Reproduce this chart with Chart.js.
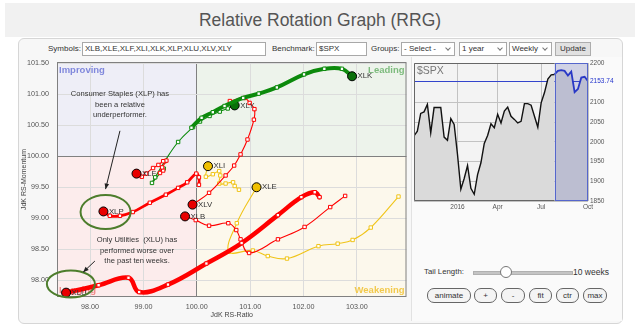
<!DOCTYPE html>
<html>
<head>
<meta charset="utf-8">
<title>Relative Rotation Graph (RRG)</title>
<script src="https://cdn.jsdelivr.net/npm/chart.js@4.4.1/dist/chart.umd.min.js"></script>
<style>
  body { margin: 0; width: 640px; height: 331px; background: #fff; position: relative; overflow: hidden;
         font-family: "Liberation Sans", Arial, sans-serif; color: #333; }
  .a { position: absolute; }
  #banner { left: 5px; top: 3px; width: 630px; height: 34px; background: #f1f1f1;
            font-size: 17.5px; line-height: 34px; text-align: center; color: #555; }
  #panel { left: 18px; top: 38px; width: 603px; height: 284px; background: #f7f7f7;
           border: 1px solid #d6d6d6; border-radius: 6px; }
  .t { font-size: 8px; line-height: 14px; top: 42px; color: #333; white-space: nowrap; }
  .box { top: 42px; height: 14px; box-sizing: border-box; border: 1px solid #a8a8a8; background: #fff;
         font-size: 8px; line-height: 12px; padding-left: 2px; white-space: nowrap; overflow: hidden; }
  .sel::after { content: ''; position: absolute; right: 4px; top: 3px; width: 3px; height: 3px;
         border-right: 1px solid #777; border-bottom: 1px solid #777; transform: rotate(45deg); }
  #update { top: 42px; left: 555px; width: 36px; height: 14px; box-sizing: border-box; background: #e1e1e1;
         border: 1px solid #adadad; font-size: 8px; line-height: 12px; text-align: center; }
  #side { left: 411px; top: 57px; width: 210px; height: 264px; background: #fafafa; border-left: 1px solid #e2e2e2; }
  .btn { top: 288px; height: 15px; box-sizing: border-box; border: 1px solid #666; border-radius: 7px;
         background: #f4f4f4; font-size: 8px; line-height: 13px; text-align: center; color: #333; }
  .s { top: 266px; font-size: 7.8px; line-height: 12px; color: #333; white-space: nowrap; }
</style>
</head>
<body>
<div id="banner" class="a">Relative Rotation Graph (RRG)</div>
<div id="panel" class="a"></div>
<div id="side" class="a"></div>

<div class="a t" style="left:48px">Symbols:</div>
<div class="a box" style="left:82px;width:184px">XLB,XLE,XLF,XLI,XLK,XLP,XLU,XLV,XLY</div>
<div class="a t" style="left:272px">Benchmark:</div>
<div class="a box" style="left:316px;width:51px">$SPX</div>
<div class="a t" style="left:371px">Groups:</div>
<div class="a box sel" style="left:401px;width:54px">- Select -</div>
<div class="a box sel" style="left:459px;width:48px">1 year</div>
<div class="a box sel" style="left:509px;width:43px">Weekly</div>
<div id="update" class="a">Update</div>

<canvas id="rrg" class="a" style="left:10px;top:56px" width="402" height="268"></canvas>
<canvas id="spx" class="a" style="left:410px;top:56px" width="212" height="160"></canvas>

<div class="a s" style="left:424px">Tail Length:</div>
<div class="a" style="left:473px;top:271px;width:98px;height:2px;background:#c4c4c4;border:1px solid #b0b0b0;box-sizing:content-box"></div>
<div class="a" style="left:500px;top:266px;width:10px;height:10px;border-radius:50%;border:1px solid #777;background:#fff"></div>
<div class="a s" style="left:573px;font-size:8.5px">10 weeks</div>

<div class="a btn" style="left:427px;width:44px">animate</div>
<div class="a btn" style="left:474px;width:23px">+</div>
<div class="a btn" style="left:501px;width:24px">-</div>
<div class="a btn" style="left:529px;width:23px">fit</div>
<div class="a btn" style="left:556px;width:23px">ctr</div>
<div class="a btn" style="left:583px;width:24px">max</div>

<script>
// tails: [JdK RS-Ratio, JdK RS-Momentum], oldest week first, last one is the head
const xlkTail = [[99.90,100.46],[100.09,100.62],[100.30,100.71],[100.52,100.81],[100.87,100.94],[101.16,101.01],[101.50,101.11],[102.01,101.32],[102.39,101.41],[102.72,101.41],[102.91,101.29]];
const xlyTail = [[99.38,99.80],[99.16,99.57],[99.22,99.66],[99.40,99.92],[99.65,100.23],[99.93,100.47],[100.06,100.56],[100.24,100.65],[100.43,100.72],[100.58,100.77],[100.71,100.82]];
const xlfTail = [[99.37,99.77],[99.31,99.73],[99.35,99.82],[99.43,99.93],[99.37,99.92],[99.28,99.86],[99.18,99.81],[99.05,99.72],[98.97,99.67],[98.92,99.69],[98.87,99.72]];
const xlpTail = [[100.04,99.54],[100.04,99.66],[99.99,99.72],[99.82,99.58],[99.65,99.49],[99.42,99.38],[99.12,99.25],[98.80,99.10],[98.56,99.04],[98.37,99.04],[98.25,99.11]];
const xluTail = [[102.30,99.34],[102.21,99.42],[101.96,99.34],[101.52,99.05],[100.84,98.60],[100.18,98.27],[99.46,97.93],[98.92,97.81],[98.72,98.04],[98.16,97.92],[97.55,97.80]];
const xlvTail = [[100.62,100.89],[100.90,100.94],[100.99,100.86],[101.08,100.76],[101.07,100.59],[100.95,100.27],[100.82,100.03],[100.70,99.85],[100.54,99.69],[100.23,99.41],[99.92,99.22]];
const xlbTail = [[102.78,99.36],[102.50,99.18],[102.02,98.86],[101.52,98.66],[100.98,98.44],[100.82,98.66],[100.74,98.81],[100.59,98.92],[100.23,98.88],[99.98,98.97],[99.78,99.03]];
const xliTail = [[100.79,99.46],[100.71,99.52],[100.68,99.58],[100.54,99.56],[100.42,99.56],[100.44,99.69],[100.42,99.76],[100.30,99.71],[100.17,99.67],[100.21,99.84]];
const xleTail = [[103.78,99.35],[103.26,98.85],[102.92,98.65],[102.64,98.59],[102.28,98.55],[101.69,98.35],[101.33,98.39],[101.05,98.48],[100.60,98.46],[100.75,98.92],[101.12,99.50]];

const symbols = ['XLU','XLP','XLK','XLF','XLY','XLV','XLB','XLI','XLE'];
const tails = { XLK: xlkTail, XLY: xlyTail, XLF: xlfTail, XLP: xlpTail, XLU: xluTail,
                XLV: xlvTail, XLB: xlbTail, XLI: xliTail, XLE: xleTail };

// benchmark: weekly closes for the last year
const spxClose = [2015,2027,2072,2076,2095,2023,2087,2087,2087,2012,2004,2059,2044,1968,1880,1907,1940,1882,1867,1917,
                  1947,1996,2016,2046,2036,2070,2048,2078,2088,2065,2057,2048,2052,2097,2097,2093,2065,2037,2099,2125,
                  2159,2170,2171,2180,2182,2180,2168,2178,2126,2134,2163,2165,2153.74];
const spxTickIdx = [13, 25, 38, 52];
const spxTickLabels = ['2016', 'Apr', 'Jul', 'Oct'];
const tailWeeks = 10;

// styles
const green = '#0c8a0c', red = '#ff0000', gold = '#f0c419';
const tailColor = { XLK: green, XLY: green, XLF: red, XLP: red, XLU: red, XLV: red, XLB: red, XLI: gold, XLE: gold };
const headColor = { XLK: '#0a700a', XLY: '#0a700a', XLF: '#e80000', XLP: '#e80000', XLU: '#e80000', XLV: '#e80000', XLB: '#e80000', XLI: '#f0c000', XLE: '#f0c000' };
const tailWidth = { XLK: 4, XLU: 4.5, XLP: 2.8 };

const notes = [
  { lines: ['Consumer Staples (XLP) has', 'been a relative', 'underperformer.'], at: [98.56, 101.0],
    from: [98.56, 100.41], to: [98.29, 99.47] },
  { lines: ['Only Utilities  (XLU) has', 'performed worse over', 'the past ten weeks.'], at: [98.88, 98.65],
    from: [98.09, 98.31], to: [97.87, 98.13] }
];
const rings = [ { at: [98.29, 99.10], rx: 25, ry: 17 }, { at: [97.64, 97.94], rx: 24, ry: 13.5 } ];

Chart.defaults.font.family = '"Liberation Sans", Arial, sans-serif';
Chart.defaults.color = '#555';

const quadrants = {
  id: 'quadrants',
  beforeDraw(chart) {
    const { ctx, chartArea: a, scales: { x, y } } = chart;
    const cx = x.getPixelForValue(100), cy = y.getPixelForValue(100);
    ctx.save();
    ctx.fillStyle = '#eeeef7'; ctx.fillRect(a.left, a.top, cx - a.left, cy - a.top);
    ctx.fillStyle = '#edf3eb'; ctx.fillRect(cx, a.top, a.right - cx, cy - a.top);
    ctx.fillStyle = '#fcecec'; ctx.fillRect(a.left, cy, cx - a.left, a.bottom - cy);
    ctx.fillStyle = '#fcf8ec'; ctx.fillRect(cx, cy, a.right - cx, a.bottom - cy);
    ctx.restore();
  },
  beforeDatasetsDraw(chart) {
    const { ctx, chartArea: a } = chart;
    ctx.save();
    ctx.strokeStyle = '#808080'; ctx.lineWidth = 1;
    ctx.strokeRect(a.left + 0.5, a.top + 0.5, a.width - 1, a.height - 1);
    ctx.font = 'bold 9.5px "Liberation Sans", Arial, sans-serif';
    ctx.textBaseline = 'alphabetic';
    ctx.textAlign = 'left';
    ctx.fillStyle = '#8088dc'; ctx.fillText('Improving', a.left + 2, a.top + 10.5);
    ctx.fillStyle = '#f08a8a'; ctx.fillText('Lagging', a.left + 2, a.bottom - 4);
    ctx.textAlign = 'right';
    ctx.fillStyle = '#7dbb7d'; ctx.fillText('Leading', a.right - 2, a.top + 10.5);
    ctx.fillStyle = '#f2c94c'; ctx.fillText('Weakening', a.right - 2, a.bottom - 4);
    ctx.restore();
  },
  afterDatasetsDraw(chart) {
    const { ctx, scales: { x, y } } = chart;
    ctx.save();
    // head labels
    ctx.font = '7.8px "Liberation Sans", Arial, sans-serif';
    ctx.fillStyle = '#333';
    ctx.textBaseline = 'middle';
    chart.data.datasets.forEach((ds, i) => {
      const pts = chart.getDatasetMeta(i).data;
      const p = pts[pts.length - 1];
      ctx.fillText(ds.label, p.x + 5.5, p.y);
    });
    // rings
    ctx.strokeStyle = '#4d7d2c'; ctx.lineWidth = 2;
    rings.forEach(r => {
      ctx.beginPath();
      ctx.ellipse(x.getPixelForValue(r.at[0]), y.getPixelForValue(r.at[1]), r.rx, r.ry, 0, 0, Math.PI * 2);
      ctx.stroke();
    });
    // notes and arrows
    ctx.font = '7.6px "Liberation Sans", Arial, sans-serif';
    ctx.textAlign = 'center';
    ctx.fillStyle = '#333';
    ctx.strokeStyle = '#222'; ctx.lineWidth = 1;
    notes.forEach(n => {
      const tx = x.getPixelForValue(n.at[0]), ty = y.getPixelForValue(n.at[1]);
      n.lines.forEach((l, k) => ctx.fillText(l, tx, ty + k * 10.5));
      const x0 = x.getPixelForValue(n.from[0]), y0 = y.getPixelForValue(n.from[1]);
      const x1 = x.getPixelForValue(n.to[0]), y1 = y.getPixelForValue(n.to[1]);
      const ang = Math.atan2(y1 - y0, x1 - x0);
      ctx.beginPath(); ctx.moveTo(x0, y0); ctx.lineTo(x1, y1); ctx.stroke();
      ctx.beginPath();
      ctx.moveTo(x1, y1);
      ctx.lineTo(x1 - 6 * Math.cos(ang - 0.4), y1 - 6 * Math.sin(ang - 0.4));
      ctx.lineTo(x1 - 6 * Math.cos(ang + 0.4), y1 - 6 * Math.sin(ang + 0.4));
      ctx.closePath();
      ctx.fillStyle = '#222'; ctx.fill();
      ctx.fillStyle = '#333';
    });
    ctx.restore();
  }
};

const isHead = (c) => c.dataIndex === c.dataset.data.length - 1;

new Chart(document.getElementById('rrg'), {
  type: 'scatter',
  data: {
    datasets: symbols.map(sym => ({
      label: sym,
      data: tails[sym].map(([x, y]) => ({ x, y })),
      showLine: true,
      tension: 0.4,
      borderColor: tailColor[sym],
      borderWidth: tailWidth[sym] || 1.1,
      borderCapStyle: 'round',
      borderJoinStyle: 'round',
      pointStyle: c => isHead(c) ? 'circle' : 'rect',
      pointRadius: c => isHead(c) ? 4.5 : 2.4,
      pointBackgroundColor: c => isHead(c) ? headColor[sym] : '#fff',
      pointBorderColor: c => isHead(c) ? '#000' : tailColor[sym],
      pointBorderWidth: 1
    }))
  },
  options: {
    responsive: false,
    animation: false,
    devicePixelRatio: 1,
    events: [],
    layout: { padding: { top: 6, right: 5, left: 0, bottom: 0 } },
    plugins: { legend: { display: false }, tooltip: { enabled: false } },
    scales: {
      x: {
        min: 97.38, max: 103.93,
        ticks: { stepSize: 1, includeBounds: false, padding: 6, font: { size: 7.2 }, color: '#555',
                 callback: v => v.toFixed(2) },
        grid: { drawTicks: false, color: c => c.tick && c.tick.value === 100 ? '#808080' : '#dcdcdc' },
        border: { display: false },
        title: { display: true, text: 'JdK RS-Ratio', font: { size: 7 }, color: '#444', padding: { top: 0, bottom: 5 } },
        afterFit: s => { s.height = 27; s.paddingLeft = 0; s.paddingRight = 0; }
      },
      y: {
        min: 97.73, max: 101.52,
        ticks: { stepSize: 0.5, includeBounds: false, padding: 8, font: { size: 7.2 }, color: '#555',
                 callback: v => v.toFixed(2) },
        grid: { drawTicks: false, color: c => c.tick && c.tick.value === 100 ? '#808080' : '#dcdcdc' },
        border: { display: false },
        title: { display: true, text: 'JdK RS-Momentum', font: { size: 7 }, color: '#444', padding: { top: 10, bottom: 0 } },
        afterFit: s => { s.width = 47; s.paddingTop = 0; s.paddingBottom = 0; }
      }
    }
  },
  plugins: [quadrants]
});

const tailStart = spxClose.length - 1 - tailWeeks;
const lastClose = spxClose[spxClose.length - 1];

const spxDecor = {
  id: 'spxDecor',
  beforeDraw(chart) {
    const { ctx, chartArea: a } = chart;
    ctx.save();
    ctx.fillStyle = '#f3f3f3';
    ctx.fillRect(a.left, a.top, a.width, a.height);
    ctx.restore();
  },
  afterDatasetsDraw(chart) {
    const { ctx, chartArea: a, scales: { x } } = chart;
    const xs = x.getPixelForValue(tailStart);
    ctx.save();
    ctx.fillStyle = 'rgba(70, 80, 175, 0.2)';
    ctx.fillRect(xs, a.top, a.right - xs, a.height);
    ctx.strokeStyle = '#5566cc'; ctx.lineWidth = 1;
    ctx.strokeRect(Math.round(xs) + 0.5, a.top + 0.5, a.right - Math.round(xs) - 1, a.height - 1);
    ctx.strokeStyle = '#666';
    ctx.beginPath();
    ctx.moveTo(xs, a.top + 0.5); ctx.lineTo(a.left + 0.5, a.top + 0.5);
    ctx.lineTo(a.left + 0.5, a.bottom - 0.5); ctx.lineTo(xs, a.bottom - 0.5);
    ctx.stroke();
    ctx.font = '10.5px "Liberation Sans", Arial, sans-serif';
    ctx.fillStyle = '#777';
    ctx.textBaseline = 'top';
    ctx.fillText('$SPX', a.left + 3, a.top + 3);
    ctx.restore();
  }
};

new Chart(document.getElementById('spx'), {
  type: 'line',
  data: {
    datasets: [{
      data: spxClose.map((v, i) => ({ x: i, y: v })),
      borderColor: '#111',
      borderWidth: 1.4,
      segment: {
        borderColor: c => c.p0DataIndex >= tailStart ? '#2233cc' : '#111',
        borderWidth: c => c.p0DataIndex >= tailStart ? 1.8 : 1.4
      },
      fill: 'start',
      backgroundColor: '#dadada',
      pointRadius: 0,
      tension: 0
    }]
  },
  options: {
    responsive: false,
    animation: false,
    devicePixelRatio: 1,
    events: [],
    layout: { padding: { left: 4, top: 7, right: 0, bottom: 0 } },
    plugins: { legend: { display: false }, tooltip: { enabled: false } },
    scales: {
      x: {
        type: 'linear', min: 0, max: spxClose.length - 1,
        afterBuildTicks: s => { s.ticks = spxTickIdx.map(v => ({ value: v })); },
        ticks: { callback: (v, i) => spxTickLabels[i], font: { size: 6.5 }, color: '#555', padding: 2,
                 maxRotation: 0, autoSkip: false },
        grid: { drawTicks: false, color: '#c2c2c2' },
        border: { display: false },
        afterFit: s => { s.height = 15; s.paddingLeft = 0; s.paddingRight = 0; }
      },
      y: {
        position: 'right', min: 1850, max: 2200,
        afterBuildTicks: s => {
          s.ticks = [1850, 1900, 1950, 2000, 2050, 2100, lastClose, 2200].map(v => ({ value: v }));
        },
        ticks: { font: { size: 6.5 }, padding: 2, autoSkip: false,
                 color: c => c.tick && c.tick.value === lastClose ? '#2233cc' : '#555',
                 callback: v => v === lastClose ? v.toFixed(2) : v },
        grid: { drawTicks: false, color: c => c.tick && c.tick.value === lastClose ? '#3344cc' : '#c2c2c2' },
        border: { display: false },
        afterFit: s => { s.width = 34; s.paddingTop = 0; s.paddingBottom = 0; }
      }
    }
  },
  plugins: [spxDecor]
});
</script>
</body>
</html>
